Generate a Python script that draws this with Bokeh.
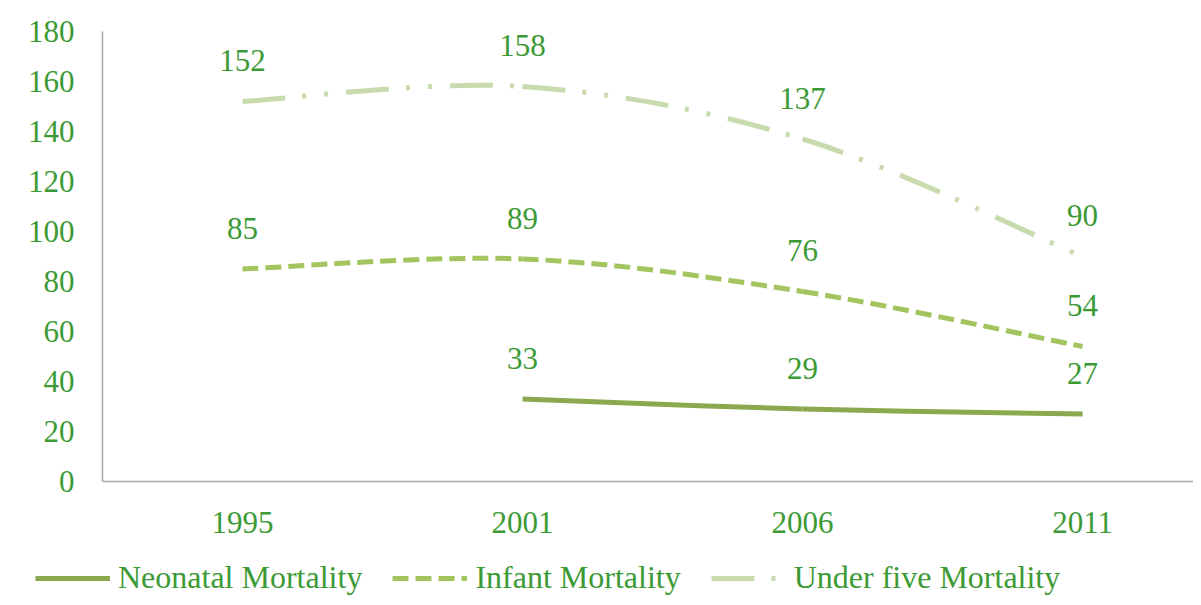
import numpy as np
from bokeh.plotting import figure
from bokeh.layouts import column, row
from bokeh.models import (Range1d, FixedTicker, Legend, LegendItem, LabelSet,
                          ColumnDataSource)
from bokeh.embed import file_html
from bokeh.resources import INLINE

# ---- data ----
years = ["1995", "2001", "2006", "2011"]
neonatal = [np.nan, 33, 29, 27]
infant = [85, 89, 76, 54]
under_five = [152, 158, 137, 90]
y_ticks = [0, 20, 40, 60, 80, 100, 120, 140, 160, 180]

series_names = ["Neonatal Mortality", "Infant Mortality", "Under five Mortality"]
series_values = [neonatal, infant, under_five]
series_colors = ["#8aa84e", "#a3c560", "#c7dbaf"]
series_dash = ["solid", "16 7", "43 17 4 18 4 18"]

TEXT = "#3c9a35"
FONT = "Liberation Serif"
xs = [i + 0.5 for i in range(len(years))]

p = figure(width=1193, height=548, output_backend="svg", toolbar_location=None,
           x_range=Range1d(0, 3.896), y_range=Range1d(0, 180),
           min_border_left=102, min_border_top=31, min_border_bottom=67,
           min_border_right=0)
p.outline_line_color = None
p.xgrid.visible = False
p.ygrid.visible = False

# legend-only strip below the chart (its data lies outside its own range)
pl = figure(width=1193, height=49, output_backend="svg", toolbar_location=None,
            x_range=Range1d(0, 1), y_range=Range1d(-2, -1),
            x_axis_type=None, y_axis_type=None,
            min_border_left=0, min_border_right=0, min_border_top=0,
            min_border_bottom=0)
pl.outline_line_color = None


def smooth_segments(x, y):
    pts = [(a, b) for a, b in zip(x, y) if not np.isnan(b)]
    n = len(pts)
    out = dict(x0=[], y0=[], x1=[], y1=[], cx0=[], cy0=[], cx1=[], cy1=[])
    for i in range(n - 1):
        p0 = np.array(pts[i - 1] if i > 0 else pts[i])
        p1 = np.array(pts[i])
        p2 = np.array(pts[i + 1])
        p3 = np.array(pts[i + 2] if i + 2 < n else pts[i + 1])
        c1 = p1 + (p2 - p0) / 6.0
        c2 = p2 - (p3 - p1) / 6.0
        out["x0"].append(p1[0]); out["y0"].append(p1[1])
        out["x1"].append(p2[0]); out["y1"].append(p2[1])
        out["cx0"].append(c1[0]); out["cy0"].append(c1[1])
        out["cx1"].append(c2[0]); out["cy1"].append(c2[1])
    return out


items = []
for name, vals, col, dash in zip(series_names, series_values, series_colors, series_dash):
    seg = ColumnDataSource(smooth_segments(xs, vals))
    p.bezier(x0="x0", y0="y0", x1="x1", y1="y1", cx0="cx0", cy0="cy0",
             cx1="cx1", cy1="cy1", source=seg, line_color=col, line_width=5,
             line_dash=dash)
    leg = pl.line(x=xs, y=vals, line_color=col, line_width=5, line_dash=dash)
    items.append(LegendItem(label=name, renderers=[leg]))

    lx = [a for a, b in zip(xs, vals) if not np.isnan(b)]
    ly = [b for b in vals if not np.isnan(b)]
    src = ColumnDataSource(dict(x=lx, y=ly, t=[str(int(v)) for v in ly]))
    p.add_layout(LabelSet(x="x", y="y", text="t", source=src, y_offset=41,
                          text_align="center", text_baseline="middle",
                          text_color=TEXT, text_font=FONT,
                          text_font_size="31px"))

# axes
p.yaxis.ticker = FixedTicker(ticks=y_ticks)
p.yaxis.major_tick_line_color = None
p.yaxis.minor_tick_line_color = None
p.yaxis.major_tick_out = 0
p.yaxis.major_label_standoff = 28
p.yaxis.axis_line_color = "#a6a6a6"
p.yaxis.axis_line_width = 1.5
p.yaxis.major_label_text_color = TEXT
p.yaxis.major_label_text_font = FONT
p.yaxis.major_label_text_font_size = "31px"

p.xaxis.ticker = FixedTicker(ticks=xs)
p.xaxis.major_label_overrides = {x: y for x, y in zip(xs, years)}
p.xaxis.major_tick_line_color = None
p.xaxis.minor_tick_line_color = None
p.xaxis.major_tick_out = 0
p.xaxis.major_label_standoff = 30
p.xaxis.axis_line_color = "#a6a6a6"
p.xaxis.axis_line_width = 1.5
p.xaxis.major_label_text_color = TEXT
p.xaxis.major_label_text_font = FONT
p.xaxis.major_label_text_font_size = "31px"

legend = Legend(items=items, orientation="horizontal", location=(35, 1),
                padding=0, margin=0, spacing=30, glyph_width=75,
                glyph_height=20, label_standoff=8, border_line_color=None,
                background_fill_alpha=0, label_text_color=TEXT,
                label_text_font=FONT, label_text_font_size="32px")
pl.add_layout(legend, "center")

layout = column(p, row(pl, spacing=0), spacing=0)
open("out.html", "w").write(file_html(layout, INLINE))
